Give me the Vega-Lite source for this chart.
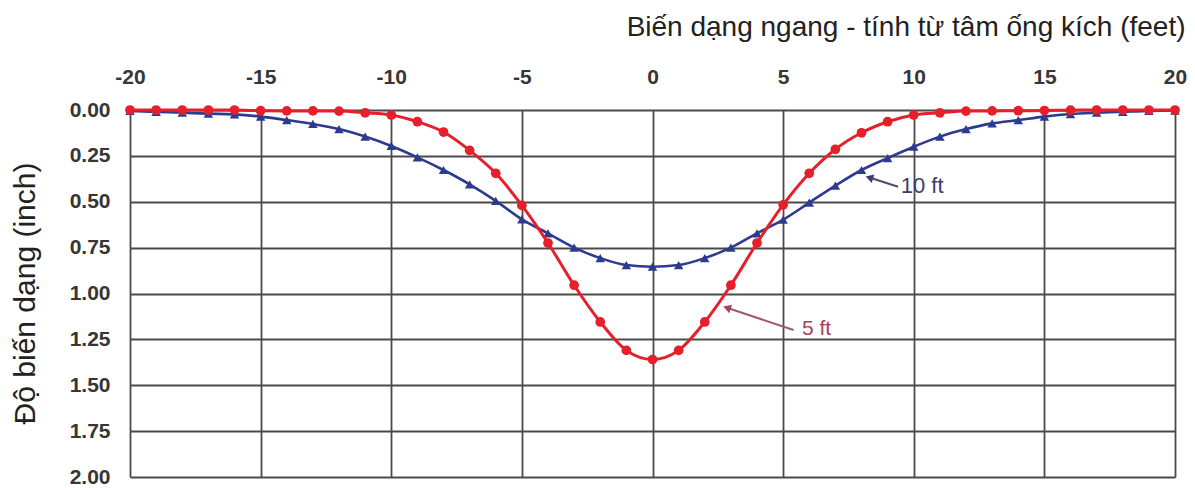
{
  "$schema": "https://vega.github.io/schema/vega-lite/v6.json",
  "width": 1045,
  "height": 367,
  "autosize": {"type": "none"},
  "padding": {"left": 130, "top": 110, "right": 20, "bottom": 13},
  "background": "white",
  "config": {
    "view": {"stroke": null},
    "font": "Liberation Sans",
    "axis": {
      "grid": true,
      "gridColor": "#4a4a4a",
      "gridWidth": 1.8,
      "gridOpacity": 1,
      "domain": false,
      "ticks": false,
      "tickSize": 0,
      "labelFlush": false,
      "labelOverlap": false,
      "labelFont": "Liberation Sans",
      "labelFontWeight": "bold",
      "labelFontSize": 21,
      "labelColor": "#363636",
      "titleFont": "Liberation Sans",
      "titleFontWeight": "normal",
      "titleColor": "#222222"
    }
  },
  "datasets": {
    "curves": [
      {"x": -20, "d": 0.0, "s": "5 ft"}, {"x": -19, "d": 0.0, "s": "5 ft"}, {"x": -18, "d": 0.0, "s": "5 ft"}, {"x": -17, "d": 0.0, "s": "5 ft"}, {"x": -16, "d": 0.0, "s": "5 ft"},
      {"x": -15, "d": 0.004, "s": "5 ft"}, {"x": -14, "d": 0.005, "s": "5 ft"}, {"x": -13, "d": 0.005, "s": "5 ft"}, {"x": -12, "d": 0.006, "s": "5 ft"}, {"x": -11, "d": 0.015, "s": "5 ft"},
      {"x": -10, "d": 0.027, "s": "5 ft"}, {"x": -9, "d": 0.064, "s": "5 ft"}, {"x": -8, "d": 0.12, "s": "5 ft"}, {"x": -7, "d": 0.22, "s": "5 ft"}, {"x": -6, "d": 0.345, "s": "5 ft"},
      {"x": -5, "d": 0.52, "s": "5 ft"}, {"x": -4, "d": 0.725, "s": "5 ft"}, {"x": -3, "d": 0.955, "s": "5 ft"}, {"x": -2, "d": 1.155, "s": "5 ft"}, {"x": -1, "d": 1.31, "s": "5 ft"},
      {"x": 0, "d": 1.36, "s": "5 ft"}, {"x": 1, "d": 1.31, "s": "5 ft"}, {"x": 2, "d": 1.155, "s": "5 ft"}, {"x": 3, "d": 0.955, "s": "5 ft"}, {"x": 4, "d": 0.725, "s": "5 ft"},
      {"x": 5, "d": 0.517, "s": "5 ft"}, {"x": 6, "d": 0.345, "s": "5 ft"}, {"x": 7, "d": 0.214, "s": "5 ft"}, {"x": 8, "d": 0.124, "s": "5 ft"}, {"x": 9, "d": 0.064, "s": "5 ft"},
      {"x": 10, "d": 0.027, "s": "5 ft"}, {"x": 11, "d": 0.015, "s": "5 ft"}, {"x": 12, "d": 0.006, "s": "5 ft"}, {"x": 13, "d": 0.005, "s": "5 ft"}, {"x": 14, "d": 0.004, "s": "5 ft"},
      {"x": 15, "d": 0.003, "s": "5 ft"}, {"x": 16, "d": 0.001, "s": "5 ft"}, {"x": 17, "d": 0.0, "s": "5 ft"}, {"x": 18, "d": 0.0, "s": "5 ft"}, {"x": 19, "d": 0.0, "s": "5 ft"}, {"x": 20, "d": 0.0, "s": "5 ft"},
      {"x": -20, "d": 0.005, "s": "10 ft"}, {"x": -19, "d": 0.01, "s": "10 ft"}, {"x": -18, "d": 0.015, "s": "10 ft"}, {"x": -17, "d": 0.02, "s": "10 ft"}, {"x": -16, "d": 0.024, "s": "10 ft"},
      {"x": -15, "d": 0.036, "s": "10 ft"}, {"x": -14, "d": 0.055, "s": "10 ft"}, {"x": -13, "d": 0.076, "s": "10 ft"}, {"x": -12, "d": 0.104, "s": "10 ft"}, {"x": -11, "d": 0.145, "s": "10 ft"},
      {"x": -10, "d": 0.196, "s": "10 ft"}, {"x": -9, "d": 0.258, "s": "10 ft"}, {"x": -8, "d": 0.327, "s": "10 ft"}, {"x": -7, "d": 0.405, "s": "10 ft"}, {"x": -6, "d": 0.495, "s": "10 ft"},
      {"x": -5, "d": 0.596, "s": "10 ft"}, {"x": -4, "d": 0.672, "s": "10 ft"}, {"x": -3, "d": 0.75, "s": "10 ft"}, {"x": -2, "d": 0.807, "s": "10 ft"}, {"x": -1, "d": 0.845, "s": "10 ft"},
      {"x": 0, "d": 0.854, "s": "10 ft"}, {"x": 1, "d": 0.845, "s": "10 ft"}, {"x": 2, "d": 0.807, "s": "10 ft"}, {"x": 3, "d": 0.75, "s": "10 ft"}, {"x": 4, "d": 0.672, "s": "10 ft"},
      {"x": 5, "d": 0.598, "s": "10 ft"}, {"x": 6, "d": 0.505, "s": "10 ft"}, {"x": 7, "d": 0.412, "s": "10 ft"}, {"x": 8, "d": 0.327, "s": "10 ft"}, {"x": 9, "d": 0.262, "s": "10 ft"},
      {"x": 10, "d": 0.2, "s": "10 ft"}, {"x": 11, "d": 0.145, "s": "10 ft"}, {"x": 12, "d": 0.104, "s": "10 ft"}, {"x": 13, "d": 0.073, "s": "10 ft"}, {"x": 14, "d": 0.055, "s": "10 ft"},
      {"x": 15, "d": 0.036, "s": "10 ft"}, {"x": 16, "d": 0.022, "s": "10 ft"}, {"x": 17, "d": 0.015, "s": "10 ft"}, {"x": 18, "d": 0.01, "s": "10 ft"}, {"x": 19, "d": 0.005, "s": "10 ft"}, {"x": 20, "d": 0.003, "s": "10 ft"}
    ],
    "notes": [
      {"s": "10 ft", "hx": 8.3, "hy": 0.368, "tx": 9.4, "ty": 0.418, "lx": 9.5, "ly": 0.414},
      {"s": "5 ft", "hx": 2.85, "hy": 1.078, "tx": 5.4, "ty": 1.199, "lx": 5.72, "ly": 1.195}
    ]
  },
  "layer": [
    {
      "data": {"name": "curves"},
      "transform": [{"filter": "datum.s === '10 ft'"}],
      "mark": {"type": "line", "color": "#2e3a8f", "strokeWidth": 2.6, "interpolate": "monotone"},
      "encoding": {
        "x": {"field": "x", "type": "quantitative", "scale": {"domain": [-20, 20], "nice": false, "zero": false},
          "axis": {"orient": "top", "values": [-20, -15, -10, -5, 0, 5, 10, 15, 20], "labelPadding": 23,
            "labelExpr": "'' + datum.value",
            "title": "Biến dạng ngang - tính từ tâm ống kích (feet)", "titleFontSize": 28, "titleX": 1055, "titleY": -75,
            "titleAlign": "right", "titleAnchor": "end", "titleBaseline": "alphabetic"}},
        "y": {"field": "d", "type": "quantitative", "scale": {"domain": [0, 2], "reverse": true, "nice": false},
          "axis": {"values": [0, 0.25, 0.5, 0.75, 1, 1.25, 1.5, 1.75, 2], "format": ".2f", "labelPadding": 20,
            "title": "Độ biến dạng (inch)", "titleFontSize": 30, "titleX": -96, "titleY": 183, "titleAngle": 270, "titleAlign": "center", "titleBaseline": "alphabetic"}}
      }
    },
    {
      "data": {"name": "curves"},
      "transform": [{"filter": "datum.s === '10 ft'"}],
      "mark": {"type": "point", "shape": "triangle-up", "filled": true, "color": "#2e3a8f", "opacity": 1, "size": 90},
      "encoding": {
        "x": {"field": "x", "type": "quantitative"},
        "y": {"field": "d", "type": "quantitative"}
      }
    },
    {
      "data": {"name": "curves"},
      "transform": [{"filter": "datum.s === '5 ft'"}],
      "mark": {"type": "line", "color": "#e5202a", "strokeWidth": 3, "interpolate": "monotone"},
      "encoding": {
        "x": {"field": "x", "type": "quantitative"},
        "y": {"field": "d", "type": "quantitative"}
      }
    },
    {
      "data": {"name": "curves"},
      "transform": [{"filter": "datum.s === '5 ft'"}],
      "mark": {"type": "point", "shape": "circle", "filled": true, "color": "#e5202a", "opacity": 1, "size": 95},
      "encoding": {
        "x": {"field": "x", "type": "quantitative"},
        "y": {"field": "d", "type": "quantitative"}
      }
    },
    {
      "data": {"name": "notes"},
      "transform": [{"filter": "datum.s === '10 ft'"}],
      "layer": [
        {"mark": {"type": "rule", "color": "#4d4d6e", "strokeWidth": 2},
          "encoding": {"x": {"field": "tx", "type": "quantitative"}, "y": {"field": "ty", "type": "quantitative"},
            "x2": {"field": "hx"}, "y2": {"field": "hy"}}},
        {"mark": {"type": "point", "shape": "triangle-up", "filled": true, "opacity": 1, "color": "#3c3c70", "size": 80, "angle": 287},
          "encoding": {"x": {"field": "hx", "type": "quantitative"}, "y": {"field": "hy", "type": "quantitative"}}},
        {"mark": {"type": "text", "align": "left", "baseline": "middle", "font": "Liberation Sans", "fontSize": 22, "color": "#3c3c6e"},
          "encoding": {"x": {"field": "lx", "type": "quantitative"}, "y": {"field": "ly", "type": "quantitative"}, "text": {"field": "s"}}}
      ]
    },
    {
      "data": {"name": "notes"},
      "transform": [{"filter": "datum.s === '5 ft'"}],
      "layer": [
        {"mark": {"type": "rule", "color": "#9c5a6c", "strokeWidth": 2},
          "encoding": {"x": {"field": "tx", "type": "quantitative"}, "y": {"field": "ty", "type": "quantitative"},
            "x2": {"field": "hx"}, "y2": {"field": "hy"}}},
        {"mark": {"type": "point", "shape": "triangle-up", "filled": true, "opacity": 1, "color": "#b0405c", "size": 80, "angle": 288},
          "encoding": {"x": {"field": "hx", "type": "quantitative"}, "y": {"field": "hy", "type": "quantitative"}}},
        {"mark": {"type": "text", "align": "left", "baseline": "middle", "font": "Liberation Sans", "fontSize": 21, "color": "#a3405a"},
          "encoding": {"x": {"field": "lx", "type": "quantitative"}, "y": {"field": "ly", "type": "quantitative"}, "text": {"field": "s"}}}
      ]
    }
  ]
}
